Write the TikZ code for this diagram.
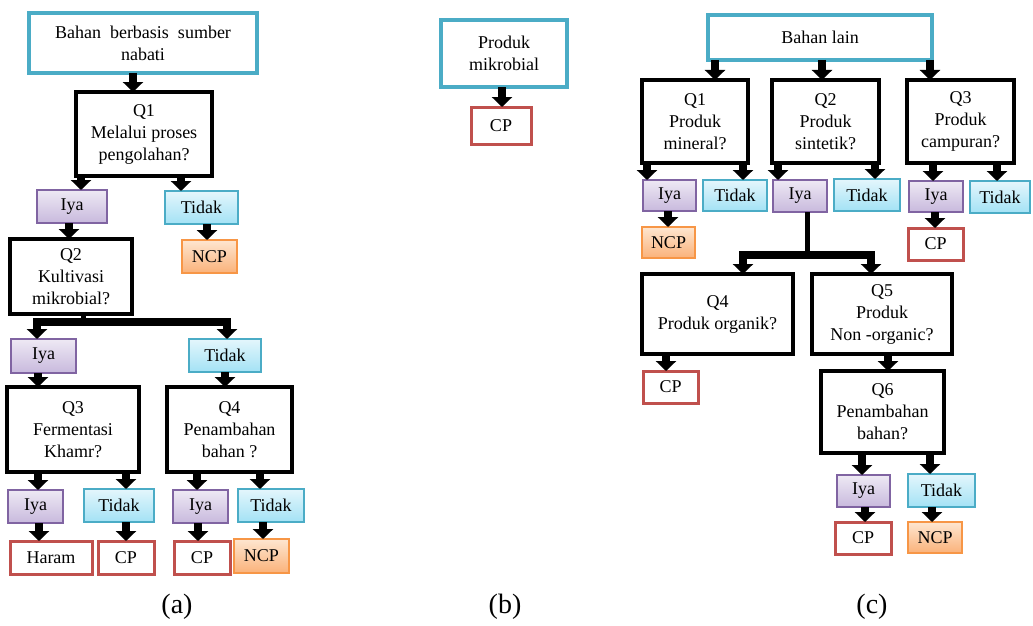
\documentclass[tikz,border=0pt]{standalone}
\usepackage{fontspec}
\setmainfont{Liberation Serif}
\usetikzlibrary{arrows.meta}
\definecolor{srcc}{HTML}{4BACC6}
\definecolor{iyad}{HTML}{8064A2}
\definecolor{iyat}{HTML}{EEE9F4}
\definecolor{iyab}{HTML}{C8B9DD}
\definecolor{tdkd}{HTML}{4BACC6}
\definecolor{tdkt}{HTML}{E4F6FC}
\definecolor{tdkb}{HTML}{A3E2F5}
\definecolor{ncpd}{HTML}{F79646}
\definecolor{ncpt}{HTML}{FEE6D0}
\definecolor{ncpb}{HTML}{FAB27A}
\definecolor{cpd}{HTML}{C0504D}
\tikzset{
 base/.style={inner sep=0pt, outer sep=0pt, align=center, font=\fontsize{18}{22}\selectfont},
 srcbox/.style={base, draw=srcc, line width=3.5pt, fill=white},
 qbox/.style={base, draw=black, line width=3.5pt, fill=white},
 iyabox/.style={base, draw=iyad, line width=1.2pt, top color=iyat, bottom color=iyab},
 tdkbox/.style={base, draw=tdkd, line width=1.2pt, top color=tdkt, bottom color=tdkb},
 ncpbox/.style={base, draw=ncpd, line width=1.2pt, top color=ncpt, bottom color=ncpb},
 cpbox/.style={base, draw=cpd, line width=3pt, fill=white},
 arr/.style={line width=7.5pt, -{Triangle[width=20pt,length=10pt]}},
 bar/.style={line width=5pt},
 lbl/.style={font=\fontsize{28}{30}\selectfont},
}
\newcommand{\bx}[7]{\node[#1, minimum width={(#5-#3)*1pt}, minimum height={(#6-#4)*1pt}] (#2) at ({(#3+#5)/2},{(#4+#6)/2}) {#7};}
\newcommand{\ar}[3]{\draw[arr] (#1.south -| #3,0) -- (#2.north -| #3,0);}
\begin{document}
\begin{tikzpicture}[x=1pt,y=-1pt]
\useasboundingbox (0,0) rectangle (1033,626);
% ---------- (a)
\bx{srcbox}{srca}{29}{13}{257}{73}{Bahan\ \ berbasis\ \ sumber\\nabati}
\bx{qbox}{q1a}{76}{92}{212}{176}{Q1\\Melalui proses\\pengolahan?}
\bx{iyabox}{iya1a}{37}{190}{107}{223}{Iya}
\bx{tdkbox}{tdk1a}{165}{191}{238}{224}{Tidak}
\bx{ncpbox}{ncp1a}{182}{240}{237}{273}{NCP}
\bx{qbox}{q2a}{10}{239}{132}{314}{Q2\\Kultivasi\\mikrobial?}
\bx{iyabox}{iya2a}{11}{339}{76}{373}{Iya}
\bx{tdkbox}{tdk2a}{189}{339}{261}{372}{Tidak}
\bx{qbox}{q3a}{7}{387}{139}{472}{Q3\\Fermentasi\\Khamr?}
\bx{qbox}{q4a}{167}{387}{292}{472}{Q4\\Penambahan\\bahan ?}
\bx{iyabox}{iya3a}{8}{490}{63}{523}{Iya}
\bx{tdkbox}{tdk3a}{84}{489}{154}{522}{Tidak}
\bx{iyabox}{iya4a}{173}{490}{228}{523}{Iya}
\bx{tdkbox}{tdk4a}{238}{489}{304}{522}{Tidak}
\bx{cpbox}{haram}{10}{541}{92}{574}{Haram}
\bx{cpbox}{cp3a}{98}{541}{154}{574}{CP}
\bx{cpbox}{cp4a}{174}{541}{230}{574}{CP}
\bx{ncpbox}{ncp4a}{234}{539}{289}{573}{NCP}
\ar{srca}{q1a}{133}
\ar{q1a}{iya1a}{81}
\ar{q1a}{tdk1a}{181}
\ar{iya1a}{q2a}{69}
\ar{tdk1a}{ncp1a}{207}
\coordinate (ja) at (83,322);
\draw[bar] (q2a.south -| ja) -- (ja);
\draw[arr] (ja) -| (iya2a.north -| 37,0);
\draw[arr] (ja) -| (tdk2a.north -| 227,0);
\ar{iya2a}{q3a}{38}
\ar{tdk2a}{q4a}{225}
\ar{q3a}{iya3a}{38}
\ar{q3a}{tdk3a}{126}
\ar{q4a}{iya4a}{197}
\ar{q4a}{tdk4a}{260}
\ar{iya3a}{haram}{39}
\ar{tdk3a}{cp3a}{126}
\ar{iya4a}{cp4a}{198}
\ar{tdk4a}{ncp4a}{263}
\node[lbl] (la) at (177,607) {(a)};
% ---------- (b)
\bx{srcbox}{srcb}{441}{20}{567}{87}{Produk\\mikrobial}
\bx{cpbox}{cpb}{471}{107}{531}{144}{CP}
\ar{srcb}{cpb}{502}
\node[lbl] (lb) at (505,607) {(b)};
% ---------- (c)
\bx{srcbox}{srcc}{708}{15}{932}{60}{Bahan lain}
\bx{qbox}{q1c}{642}{80}{748}{163}{Q1\\Produk\\mineral?}
\bx{qbox}{q2c}{772}{80}{879}{163}{Q2\\Produk\\sintetik?}
\bx{qbox}{q3c}{907}{80}{1014}{163}{Q3\\Produk\\campuran?}
\bx{iyabox}{iya1c}{643}{180}{696}{211}{Iya}
\bx{tdkbox}{tdk1c}{703}{180}{767}{211}{Tidak}
\bx{iyabox}{iya2c}{773}{180}{827}{212}{Iya}
\bx{tdkbox}{tdk2c}{834}{179}{900}{211}{Tidak}
\bx{iyabox}{iya3c}{909}{181}{963}{212}{Iya}
\bx{tdkbox}{tdk3c}{970}{181}{1030}{213}{Tidak}
\bx{ncpbox}{ncp1c}{642}{227}{695}{258}{NCP}
\bx{cpbox}{cp3c}{908}{228}{963}{260}{CP}
\bx{qbox}{q4c}{642}{274}{793}{354}{Q4\\Produk organik?}
\bx{qbox}{q5c}{812}{274}{952}{354}{Q5\\Produk\\Non -organic?}
\bx{cpbox}{cp4c}{643}{371}{698}{403}{CP}
\bx{qbox}{q6c}{821}{371}{944}{453}{Q6\\Penambahan\\bahan?}
\bx{iyabox}{iya6c}{837}{475}{890}{507}{Iya}
\bx{tdkbox}{tdk6c}{908}{474}{975}{507}{Tidak}
\bx{cpbox}{cp6c}{835}{522}{891}{554}{CP}
\bx{ncpbox}{ncp6c}{908}{522}{962}{553}{NCP}
\ar{srcc}{q1c}{715}
\ar{srcc}{q2c}{822}
\ar{srcc}{q3c}{930}
\ar{q1c}{iya1c}{647}
\ar{q1c}{tdk1c}{743}
\ar{q2c}{iya2c}{778}
\ar{q2c}{tdk2c}{875}
\ar{q3c}{iya3c}{933}
\ar{q3c}{tdk3c}{997}
\ar{iya1c}{ncp1c}{668}
\ar{iya3c}{cp3c}{935}
\coordinate (jc) at (807,255);
\draw[bar] (iya2c.south -| jc) -- (jc);
\draw[arr] (jc) -| (q4c.north -| 743,0);
\draw[arr] (jc) -| (q5c.north -| 871,0);
\ar{q4c}{cp4c}{666}
\ar{q5c}{q6c}{888}
\ar{q6c}{iya6c}{862}
\ar{q6c}{tdk6c}{930}
\ar{iya6c}{cp6c}{865}
\ar{tdk6c}{ncp6c}{932}
\node[lbl] (lc) at (872,607) {(c)};
\end{tikzpicture}
\end{document}
